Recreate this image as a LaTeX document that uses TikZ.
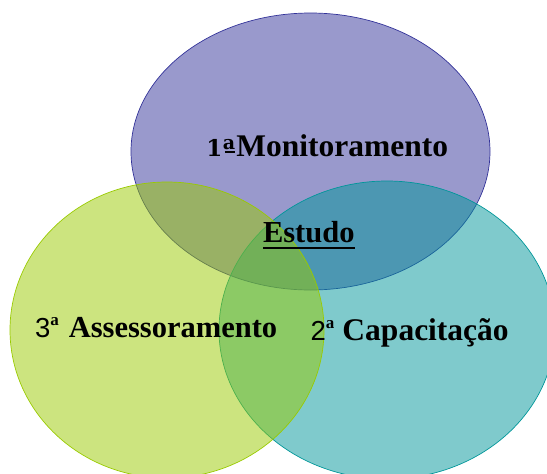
\documentclass[tikz,border=0pt]{standalone}
\usepackage{fontspec}
\setmainfont{Liberation Serif}
\newfontfamily\digitfont{Liberation Sans}
\newfontfamily\onefont{DejaVu Serif}
\definecolor{vpurple}{RGB}{51,51,153}
\definecolor{vteal}{RGB}{0,150,153}
\definecolor{vgreen}{RGB}{153,202,0}
\begin{document}
\begin{tikzpicture}[x=1pt,y=-1pt,
  venn/.style={fill=#1,fill opacity=0.5,draw=#1,line width=0.7pt},
  lbl/.style={inner sep=0pt,outer sep=0pt,text=black,font=\fontsize{30.5}{36}\selectfont\bfseries},
  biglbl/.style={lbl,font=\fontsize{31.5}{36}\selectfont\bfseries}]
\useasboundingbox (0,0) rectangle (547,474);
\path[venn=vpurple] (310.5,151.5) ellipse [x radius=179.5pt, y radius=138.5pt];
\path[venn=vteal] (387,330) ellipse [x radius=168pt, y radius=149pt];
\path[venn=vgreen] (167,330) ellipse [x radius=157pt, y radius=148pt];
\node[biglbl, anchor=base east] (mon) at (448,156) {{\onefont\bfseries\fontsize{23}{28}\selectfont 1\hspace{0.5pt}\raisebox{6.5pt}{\fontsize{19}{22}\selectfont a}\llap{\rule[3pt]{10.5pt}{1.8pt}}}\hspace{1pt}Monitoramento};
\node[lbl, anchor=base west] (est) at (263,242.5) {Estudo};
\draw[line width=2pt] ([yshift=-5.5pt]est.base west) -- ([yshift=-5.5pt]est.base east);
\node[lbl, anchor=base west] (ass) at (35,337.3) {{\digitfont\mdseries\fontsize{27.5}{30}\selectfont 3}\raisebox{12pt}{\fontsize{17}{20}\selectfont a}\hspace{10pt}Assessoramento};
\node[biglbl, anchor=base west] (cap) at (310.7,340.7) {{\digitfont\mdseries\fontsize{27.5}{30}\selectfont 2}\raisebox{12pt}{\fontsize{17}{20}\selectfont a}\hspace{8pt}Capacitação};
\end{tikzpicture}
\end{document}
